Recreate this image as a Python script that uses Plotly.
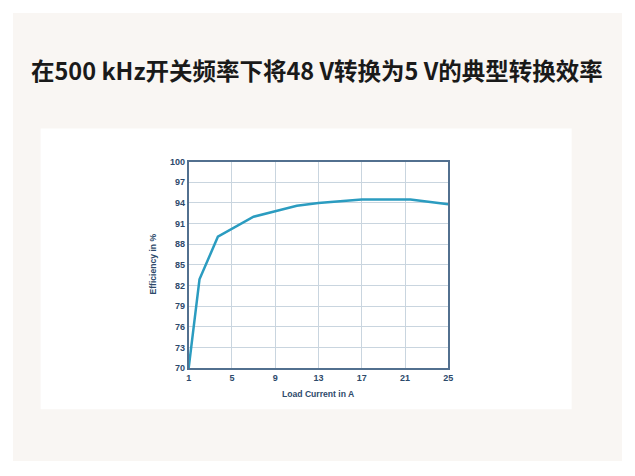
import plotly.graph_objects as go

# efficiency curve
load_current = [1, 2, 3.7, 5, 7, 9, 11, 13, 15, 17, 19, 21.5, 25]
efficiency = [70, 82.9, 89.1, 90.2, 92.0, 92.8, 93.6, 94.0, 94.3, 94.5, 94.5, 94.5, 93.8]

x_ticks = [1, 5, 9, 13, 17, 21, 25]
y_ticks = [70, 73, 76, 79, 82, 85, 88, 91, 94, 97, 100]

title_text = "在500 kHz开关频率下将48 V转换为5 V的典型转换效率"
x_label = "Load Current in A"
y_label = "Efficiency in %"

# the page body adds 8px all round, so shrink the figure to keep the page at 635x476
OFF = 8
W, H = 635 - 2 * OFF, 476 - 2 * OFF


def px_x(v):
    return (v - OFF) / W


def px_y(v):
    return 1 - (v - OFF) / H


navy = "#2d4a6b"
tick_font = dict(family="Liberation Sans, Arial", size=9, color=navy, weight="bold")
label_font = dict(family="Liberation Sans, Arial", size=8.6, color=navy, weight="bold")

fig = go.Figure()
fig.add_trace(go.Scatter(
    x=load_current, y=efficiency, mode="lines",
    line=dict(color="#2b9cc0", width=2.5),
    showlegend=False,
))

axis_common = dict(
    showgrid=True, gridcolor="#c9d5df", gridwidth=1,
    showline=True, linecolor="#52708f", linewidth=1.5, mirror=True,
    ticks="", zeroline=False, tickfont=tick_font,
)
fig.update_xaxes(range=[1, 25], tickvals=x_ticks, domain=[px_x(188), px_x(451)], **axis_common)
fig.update_yaxes(range=[70, 100], tickvals=y_ticks, domain=[px_y(371), px_y(160)], **axis_common)

fig.update_layout(
    width=W, height=H,
    margin=dict(l=0, r=0, t=0, b=0),
    paper_bgcolor="white", plot_bgcolor="white",
    shapes=[
        # beige page background
        dict(type="rect", xref="paper", yref="paper", x0=px_x(10), x1=1, y0=px_y(466), y1=1,
             fillcolor="#f9f6f3", line=dict(width=0), layer="below"),
        # white card behind the chart
        dict(type="rect", xref="paper", yref="paper", x0=px_x(38), x1=px_x(576), y0=px_y(413), y1=px_y(126),
             fillcolor="white", line=dict(width=0), layer="below"),
    ],
    annotations=[
        dict(text=title_text, x=px_x(317.5), y=px_y(66), xref="paper", yref="paper",
             showarrow=False, xanchor="center", yanchor="middle",
             font=dict(family="Noto Sans CJK SC", size=23.5, color="#1a1a1a", weight="bold")),
        dict(text=x_label, x=px_x(319.5), y=px_y(397), xref="paper", yref="paper",
             showarrow=False, xanchor="center", yanchor="middle", font=label_font),
        dict(text=y_label, x=px_x(152), y=px_y(265), xref="paper", yref="paper",
             showarrow=False, xanchor="center", yanchor="middle", textangle=-90, font=label_font),
    ],
)

fig.write_html("out.html")
